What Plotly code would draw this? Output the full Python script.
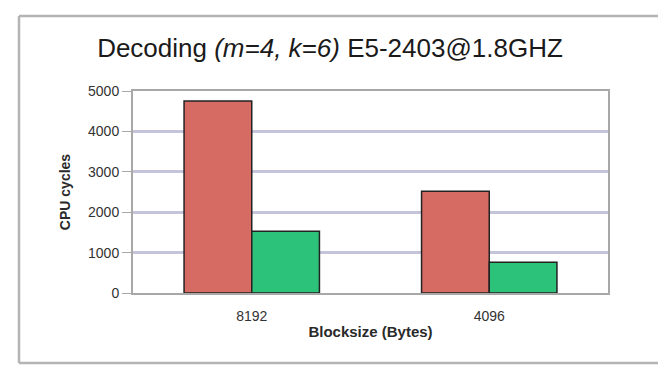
import plotly.graph_objects as go

categories = ["8192", "4096"]
series_a = [4750, 2520]
series_b = [1530, 760]
y_ticks = [0, 1000, 2000, 3000, 4000, 5000]

W, H = 661, 365
L, R, T, B = 133, 53, 91, 72
pw, ph = W - L - R, H - T - B

def px(x):
    return (x - L) / pw

def py(y):
    return 1 - (y - T) / ph

fig = go.Figure()
fig.add_trace(go.Bar(x=categories, y=series_a, name="A",
                     marker=dict(color="#d56b63", line=dict(color="#222222", width=1.5))))
fig.add_trace(go.Bar(x=categories, y=series_b, name="B",
                     marker=dict(color="#2dc27a", line=dict(color="#222222", width=1.5))))

fig.update_layout(
    width=W, height=H,
    margin=dict(l=L, r=R, t=T, b=B, pad=0),
    paper_bgcolor="white", plot_bgcolor="white",
    barmode="group", bargap=0.43, bargroupgap=0,
    showlegend=False,
    font=dict(family="Liberation Sans, Arial, sans-serif", color="#333333"),
    title=dict(text="Decoding <i>(m=4, k=6)</i> E5-2403@1.8GHZ",
               x=330 / W, xref="container", xanchor="center",
               y=1 - 48 / H, yanchor="middle",
               font=dict(size=26, color="#1a1a1a")),
    xaxis=dict(showline=True, mirror=True, linecolor="#a8a8a8", linewidth=2,
               tickfont=dict(size=14, color="#333333"),
               ticks="outside", ticklen=9, tickcolor="rgba(0,0,0,0)",
               title=dict(text="<b>Blocksize (Bytes)</b>", font=dict(size=15, color="#2a2a2a"),
                          standoff=4)),
    yaxis=dict(range=[0, 5000], tickvals=y_ticks, showline=True, mirror=True,
               linecolor="#a8a8a8", linewidth=2,
               gridcolor="#c4c4da", gridwidth=2.5,
               ticks="outside", ticklen=9, tickcolor="#a8a8a8",
               tickfont=dict(size=14, color="#333333"),
               title=dict(text="<b>CPU cycles</b>", font=dict(size=14, color="#2a2a2a"),
                          standoff=14)),
)

# outer frame (left, top, bottom lines only)
frame_x0, frame_y0, frame_y1, frame_x1 = 19, 16, 363, 658
frame_line = dict(color="#b4b4b4", width=2.5)
fig.add_shape(type="line", xref="paper", yref="paper",
              x0=px(frame_x0), x1=px(frame_x1), y0=py(frame_y0), y1=py(frame_y0),
              line=frame_line, layer="below")
fig.add_shape(type="line", xref="paper", yref="paper",
              x0=px(frame_x0), x1=px(frame_x1), y0=py(frame_y1), y1=py(frame_y1),
              line=frame_line, layer="below")
fig.add_shape(type="line", xref="paper", yref="paper",
              x0=px(frame_x0), x1=px(frame_x0), y0=py(frame_y0), y1=py(frame_y1),
              line=frame_line, layer="below")

fig.write_html("out.html")
